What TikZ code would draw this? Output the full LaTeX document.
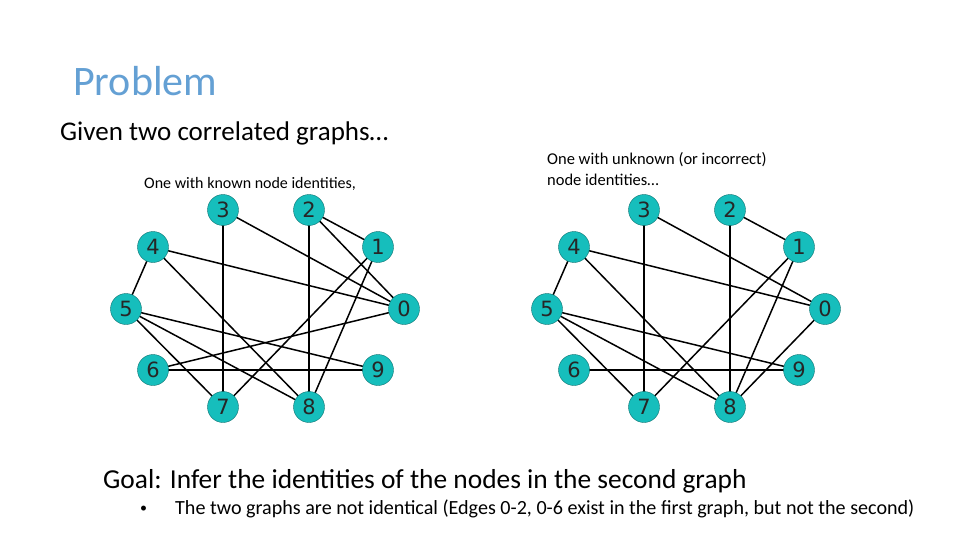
\documentclass[tikz,border=0pt]{standalone}
\usepackage{fontspec}
\usetikzlibrary{backgrounds}
\setmainfont{Carlito}
\newfontfamily\nodefont{DejaVu Sans}
\definecolor{teal1}{RGB}{22,190,188}
\definecolor{titleblue}{RGB}{100,160,212}
\begin{document}
\begin{tikzpicture}[x=1pt,y=-1pt,
  gn/.style={circle,fill=teal1,draw=teal1!60!black,line width=0.4pt,minimum size=31pt,inner sep=0pt,text=black!85,font=\nodefont\fontsize{21}{21}\selectfont},
  ed/.style={line width=1.5pt,black},
  txt/.style={anchor=west,inner sep=0pt}]
\useasboundingbox (0,0) rectangle (960,540);
\node[txt,text=titleblue,font=\fontsize{42}{42}\selectfont] (t) at (73,81) {Problem};
\node[txt,font=\fontsize{27}{27}\selectfont] (g) at (60,133) {Given two correlated graphs…};
\node[txt,font=\fontsize{16}{16}\selectfont] (a) at (144,184) {One with known node identities,};
\node[txt,font=\fontsize{16.5}{21}\selectfont,align=left] (b) at (547,169) {One with unknown (or incorrect)\\node identities…};
\node[txt,font=\fontsize{27.4}{27.4}\selectfont] (goal) at (103,481) {Goal: Infer the identities of the nodes in the second graph};
\node[txt,font=\fontsize{14}{14}\selectfont] (bul) at (140,509) {•};
\node[txt,font=\fontsize{20.1}{20.1}\selectfont] (bt) at (175,509) {The two graphs are not identical (Edges 0-2, 0-6 exist in the first graph, but not the second)};
\foreach \p/\o in {A/0,B/421}{
  \begin{scope}[xshift=\o]
  \node[gn] (\p3) at (223,210) {3};
  \node[gn] (\p2) at (309,210) {2};
  \node[gn] (\p1) at (378,247) {1};
  \node[gn] (\p0) at (404,309) {0};
  \node[gn] (\p9) at (378,370) {9};
  \node[gn] (\p8) at (309,407) {8};
  \node[gn] (\p7) at (223,407) {7};
  \node[gn] (\p6) at (153,370) {6};
  \node[gn] (\p5) at (126,309) {5};
  \node[gn] (\p4) at (153,247) {4};
  \end{scope}}
\begin{pgfonlayer}{background}
\fill[white] (0,0) rectangle (960,540);
\foreach \u/\v in {3/7,3/0,2/8,2/1,2/0,1/7,1/8,4/0,4/5,4/8,5/9,5/8,5/7,6/0,6/9}
  \draw[ed] (A\u.center) -- (A\v.center);
\foreach \u/\v in {3/7,3/0,2/8,2/1,1/7,1/8,4/0,4/5,4/8,5/9,5/8,5/7,6/9,0/8}
  \draw[ed] (B\u.center) -- (B\v.center);
\end{pgfonlayer}
\end{tikzpicture}
\end{document}
